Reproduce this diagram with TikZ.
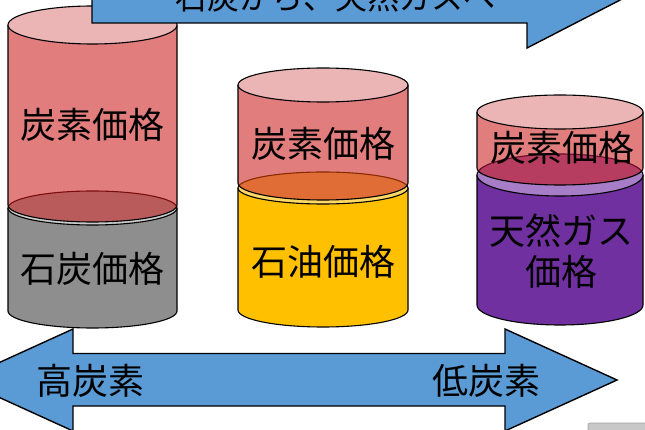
\documentclass[tikz,border=0pt]{standalone}
\usepackage{fontspec}
\newfontfamily\jp{Noto Sans CJK JP}
\definecolor{carbon}{HTML}{E17D7D}
\definecolor{carbontop}{HTML}{ECB5B5}
\definecolor{coalgray}{HTML}{8E8E8E}
\definecolor{coaltop}{HTML}{CCCCCC}
\definecolor{coalmix}{HTML}{BA5B5B}
\definecolor{coaledge}{HTML}{7A0E0E}
\definecolor{oil}{HTML}{FFC000}
\definecolor{oiltop}{HTML}{FFD966}
\definecolor{oilmix}{HTML}{E06D36}
\definecolor{oiledge}{HTML}{8A2A00}
\definecolor{gas}{HTML}{7030A0}
\definecolor{gastop}{HTML}{A77DC8}
\definecolor{gasmix}{HTML}{B63C60}
\definecolor{gasedge}{HTML}{6A0A2A}
\definecolor{arrowblue}{HTML}{5B9BD5}
\definecolor{uigray}{HTML}{C8C8C8}
% can helpers: #1 cx, #2 rx, #3 top centre y, #4 bottom centre y, #5 ry
\newcommand\CanFill[6]{\path[#6] ({#1-#2},#3) -- ({#1-#2},#4) arc[start angle=180,end angle=0,x radius=#2,y radius=#5] -- ({#1+#2},#3) -- cycle;}
\newcommand\CanClip[5]{\clip ({#1-#2},#3) -- ({#1-#2},#4) arc[start angle=180,end angle=0,x radius=#2,y radius=#5] -- ({#1+#2},#3) -- cycle;}
\newcommand\CanOutline[6]{\draw[#6] ({#1-#2},#3) -- ({#1-#2},#4) arc[start angle=180,end angle=0,x radius=#2,y radius=#5] -- ({#1+#2},#3);}
\begin{document}
\begin{tikzpicture}[x=1pt,y=-1pt,
  cyl/.style={draw=black, line width=1.1pt},
  lbl/.style={font=\jp\fontsize{36}{41}\selectfont, inner sep=0pt, align=center, text=black},
  toplbl/.style={font=\jp\fontsize{32}{36}\selectfont, inner sep=0pt, text=black},
  arrowshape/.style={fill=arrowblue, draw=black, line width=1.4pt, line join=miter}]
\useasboundingbox (0,0) rectangle (645,430);
\clip (0,0) rectangle (645,430);

% ---------- cylinder 1: coal ----------
\CanFill{92.5}{84.5}{208}{311}{17}{fill=coalgray}
\CanOutline{92.5}{84.5}{208}{311}{17}{cyl}
\filldraw[cyl, fill=coaltop] (92.5,208) ellipse[x radius=84.5, y radius=17];
\CanFill{92.5}{84.5}{25}{205}{17}{fill=carbon}
\begin{scope}
  \clip (92.5,208) ellipse[x radius=84.5, y radius=17];
  \CanFill{92.5}{84.5}{25}{205}{17}{fill=coalmix}
\end{scope}
\begin{scope}
  \CanClip{92.5}{84.5}{25}{205}{17}
  \draw[line width=1.1pt, draw=coaledge] (92.5,208) ellipse[x radius=84.5, y radius=17];
\end{scope}
\CanOutline{92.5}{84.5}{25}{205}{17}{cyl}
\filldraw[cyl, fill=carbontop] (92.5,25) ellipse[x radius=84.5, y radius=19];

% ---------- cylinder 2: oil ----------
\CanFill{323}{85}{188}{310}{17}{fill=oil}
\CanOutline{323}{85}{188}{310}{17}{cyl}
\filldraw[cyl, fill=oiltop] (323,188) ellipse[x radius=85, y radius=16];
\CanFill{323}{85}{85}{183}{17}{fill=carbon}
\begin{scope}
  \clip (323,188) ellipse[x radius=85, y radius=16];
  \CanFill{323}{85}{85}{183}{17}{fill=oilmix}
\end{scope}
\begin{scope}
  \CanClip{323}{85}{85}{183}{17}
  \draw[line width=1.1pt, draw=oiledge] (323,188) ellipse[x radius=85, y radius=16];
\end{scope}
\CanOutline{323}{85}{85}{183}{17}{cyl}
\filldraw[cyl, fill=carbontop] (323,85) ellipse[x radius=85, y radius=17];

% ---------- cylinder 3: gas ----------
\CanFill{560}{83}{175}{305}{20}{fill=gas}
\CanOutline{560}{83}{175}{305}{20}{cyl}
\filldraw[cyl, fill=gastop] (560,175) ellipse[x radius=83, y radius=21];
\CanFill{560}{83}{112}{168}{17}{fill=carbon}
\begin{scope}
  \clip (560,175) ellipse[x radius=83, y radius=21];
  \CanFill{560}{83}{112}{168}{17}{fill=gasmix}
\end{scope}
\begin{scope}
  \CanClip{560}{83}{112}{168}{17}
  \draw[line width=1.1pt, draw=gasedge] (560,175) ellipse[x radius=83, y radius=21];
\end{scope}
\CanOutline{560}{83}{112}{168}{17}{cyl}
\filldraw[cyl, fill=carbontop] (560,112) ellipse[x radius=83, y radius=17];

% ---------- cylinder labels ----------
\node[lbl] (c1a) at (92,125) {炭素価格};
\node[lbl] (c1b) at (92,269) {石炭価格};
\node[lbl] (c2a) at (323,144) {炭素価格};
\node[lbl] (c2b) at (323,262) {石油価格};
\node[lbl] (c3a) at (562,148) {炭素価格};
\node[lbl] (c3b) at (561,251) {天然ガス\\価格};

% ---------- top arrow ----------
\draw[arrowshape] (92,-28) -- (527,-28) -- (527,-53) -- (625,-2.5) -- (527,48) -- (527,23) -- (92,23) -- cycle;
\node[toplbl] (toptext) at (335,-3) {石炭から、天然ガスへ};

% ---------- bottom double arrow ----------
\draw[arrowshape] (-39,380) -- (73,329) -- (73,353.5) -- (505,353.5) -- (505,329) -- (617,380) -- (505,431) -- (505,406) -- (73,406) -- (73,431) -- cycle;
\node[lbl] (high) at (90,381) {高炭素};
\node[lbl] (low) at (486,381) {低炭素};

% ---------- corner fragment ----------
\filldraw[fill=uigray, draw=uigray!80!black, line width=0.6pt, rounded corners=2pt] (588,423) rectangle (660,445);
\end{tikzpicture}
\end{document}
